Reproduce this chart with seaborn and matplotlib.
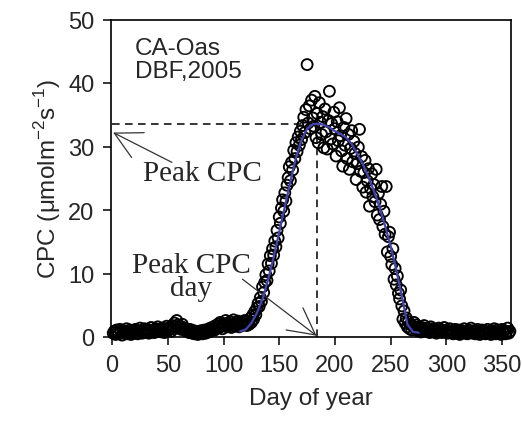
import matplotlib
matplotlib.use("Agg")
import matplotlib.pyplot as plt
import seaborn as sns
import pandas as pd
import numpy as np

# ---- data ----
cpc_obs = [
    # days 1-30
    0.6, 0.9, 0.4, 1.1, 0.7, 0.5, 1.2, 0.8, 0.3, 1.0, 0.6, 0.9, 1.3, 0.5, 0.8, 1.1, 0.4, 0.7, 1.0, 0.6, 1.2, 0.9, 0.5, 0.8, 1.4, 0.7, 0.6, 1.0, 1.3, 0.8,
    # days 31-60
    0.9, 1.2, 0.6, 1.0, 1.5, 0.8, 1.1, 0.7, 1.3, 0.9, 1.6, 1.0, 1.2, 0.8, 1.4, 1.1, 0.7, 1.3, 1.7, 1.0, 1.2, 1.5, 0.9, 1.8, 1.3, 2.2, 1.6, 2.6, 1.9, 1.4,
    # days 61-90
    1.7, 1.2, 2.0, 1.5, 1.1, 1.3, 0.9, 1.0, 0.7, 1.2, 0.8, 0.6, 1.0, 0.5, 0.9, 0.7, 0.4, 0.8, 0.6, 1.0, 0.5, 0.7, 1.1, 0.6, 0.9, 1.2, 0.8, 1.4, 1.0, 1.3,
    # days 91-120
    1.6, 1.1, 1.8, 1.4, 2.0, 1.5, 2.3, 1.7, 1.3, 2.1, 1.9, 2.6, 1.6, 2.2, 1.8, 2.4, 1.5, 2.0, 2.7, 1.7, 2.2, 1.9, 2.5, 1.6, 2.1, 1.8, 2.3, 1.9, 2.6, 2.0,
    # days 121-150
    1.8, 2.4, 2.0, 2.9, 2.3, 3.4, 2.8, 4.0, 3.5, 4.6, 5.3, 4.8, 6.2, 5.6, 7.9, 7.0, 8.6, 9.8, 8.9, 11.5, 10.4, 12.8, 11.6, 13.9, 12.9, 15.1, 14.2, 16.8, 15.6, 18.9,
    # days 151-180
    17.9, 20.3, 21.6, 19.8, 22.7, 21.4, 23.9, 25.1, 26.8, 24.6, 27.5, 26.3, 29.4, 28.1, 30.6, 29.2, 31.5, 30.2, 32.4, 31.1, 33.3, 34.6, 32.2, 35.8, 42.9, 33.7, 36.4, 32.8, 37.3, 34.5,
    # days 181-215
    33.2, 37.9, 31.4, 35.2, 30.6, 36.9, 33.8, 31.9, 34.7, 29.8, 35.9, 32.3, 29.6, 34.1, 38.7, 31.2, 33.6, 30.4, 35.4, 32.8, 28.5, 33.9, 30.9, 36.1, 31.7, 29.3, 26.9, 33.0, 30.2, 34.4, 28.1, 31.9, 26.4, 29.7, 32.5,
    # days 216-250
    27.6, 30.8, 28.9, 24.8, 27.3, 29.9, 32.7, 26.1, 28.4, 23.6, 25.9, 27.8, 22.8, 24.6, 26.5, 20.6, 23.4, 25.7, 22.1, 24.0, 21.3, 26.4, 19.2, 22.6, 18.5, 20.9, 23.7, 17.4, 19.8, 16.2, 23.7, 13.4, 15.8, 16.5, 12.7,
    # days 251-275
    11.4, 13.9, 9.1, 10.8, 8.2, 9.6, 6.9, 6.0, 7.4, 4.9, 2.8, 4.1, 2.2, 3.0, 1.6, 2.4, 1.3, 2.0, 1.1, 1.7, 2.3, 1.4, 1.9, 1.0, 1.6,
    # days 276-305
    1.2, 0.8, 1.5, 1.0, 1.8, 1.3, 0.9, 1.4, 1.1, 0.7, 1.6, 1.0, 1.3, 0.8, 1.2, 0.6, 1.1, 1.4, 0.9, 1.2, 0.7, 1.0, 1.5, 0.8, 1.1, 0.6, 0.9, 1.3, 0.7, 1.0,
    # days 306-335
    0.5, 0.8, 1.2, 0.6, 0.9, 1.1, 0.4, 0.7, 1.0, 0.8, 1.3, 0.6, 0.9, 0.5, 1.1, 0.7, 1.4, 0.8, 0.6, 1.0, 0.5, 0.9, 1.2, 0.7, 0.4, 0.8, 1.1, 0.6, 0.9, 0.5,
    # days 336-357
    0.8, 1.2, 0.6, 0.9, 0.4, 1.0, 0.7, 1.3, 0.5, 0.8, 1.1, 0.6, 0.9, 0.4, 1.2, 0.7, 1.0, 0.5, 0.8, 1.4, 0.6, 0.9,
]
obs_days = list(range(1, len(cpc_obs) + 1))

fit_days = [115, 120, 125, 130, 135, 140, 145, 150, 155, 160, 165, 170, 175, 180, 185,
            190, 195, 200, 205, 210, 215, 220, 225, 230, 235, 240, 245, 250, 255, 260, 265, 270, 275]
fit_cpc = [0.9, 1.2, 2.2, 3.8, 6.0, 9.0, 12.6, 16.5, 20.5, 24.5, 28.2, 31.0, 32.8, 33.5, 33.6,
           33.4, 33.0, 32.4, 32.0, 31.4, 30.4, 28.8, 27.2, 25.2, 23.0, 20.5, 17.5, 14.3, 10.6, 6.5, 2.0, 0.8, 0.7]

peak_day = 184
peak_cpc = 33.6

x_ticks = [0, 50, 100, 150, 200, 250, 300, 350]
y_ticks = [0, 10, 20, 30, 40, 50]

obs = pd.DataFrame({"day": obs_days, "cpc": cpc_obs})
fit = pd.DataFrame({"day": fit_days, "cpc": fit_cpc})

# ---- plotting ----
sns.set_theme(style="ticks")
plt.rcParams["font.family"] = ["Liberation Sans", "DejaVu Sans"]

fig = plt.figure(figsize=(5.22, 4.31), dpi=100)
ax = fig.add_axes([111 / 522, 1 - 338 / 431, 400 / 522, (338 - 20.5) / 431])

sns.scatterplot(data=obs, x="day", y="cpc", ax=ax, marker="o", s=62,
                facecolors="none", edgecolor="black", linewidth=1.35, clip_on=False, zorder=3)
sns.lineplot(data=fit, x="day", y="cpc", ax=ax, color="#4444aa", linewidth=1.6, zorder=4)

ax.plot([0, peak_day], [peak_cpc, peak_cpc], color="black", linestyle=(0, (5, 3.5)), linewidth=1.1, zorder=2)
ax.plot([peak_day, peak_day], [0, peak_cpc], color="black", linestyle=(0, (5, 3.5)), linewidth=1.1, zorder=2)

ax.set_xlim(-1, 358)
ax.set_ylim(0, 50)
ax.set_xticks(x_ticks)
ax.set_yticks(y_ticks)
ax.set_xticklabels([str(t) for t in x_ticks])
ax.set_yticklabels([str(t) for t in y_ticks])
ax.tick_params(axis="both", direction="out", length=6, width=1.1, labelsize=17, colors="black", pad=6)
ax.tick_params(axis="both", labelcolor="#262626")
for sp in ax.spines.values():
    sp.set_visible(True)
    sp.set_linewidth(1.2)
    sp.set_color("black")

ax.set_xlabel("Day of year", fontsize=17.5, labelpad=8)
ax.set_ylabel("CPC (\u03bcmolm$^{\\mathregular{-2}}$s$^{\\mathregular{-1}}$)", fontsize=17.5, labelpad=4)

ax.text(0.06, 0.945, "CA-Oas\nDBF,2005", transform=ax.transAxes, ha="left", va="top",
        fontsize=17.5, linespacing=1.05)

serif = ["Liberation Serif", "DejaVu Serif"]
arrow = dict(arrowstyle="->,head_length=0.95,head_width=0.5", lw=0.9, color="#333333",
             mutation_scale=20, shrinkA=0, shrinkB=0)
ax.annotate("", xy=(0.9, 32.2), xytext=(53.7, 27.5), arrowprops=arrow)
ax.text(81.5, 25.9, "Peak CPC", family=serif, fontsize=21, ha="center", va="center")
ax.annotate("", xy=(183.5, 0.2), xytext=(117, 9.1), arrowprops=arrow)
ax.text(71.2, 9.6, "Peak CPC\nday", family=serif, fontsize=21, ha="center", va="center", linespacing=0.85)

fig.savefig("out.png", dpi=100)
